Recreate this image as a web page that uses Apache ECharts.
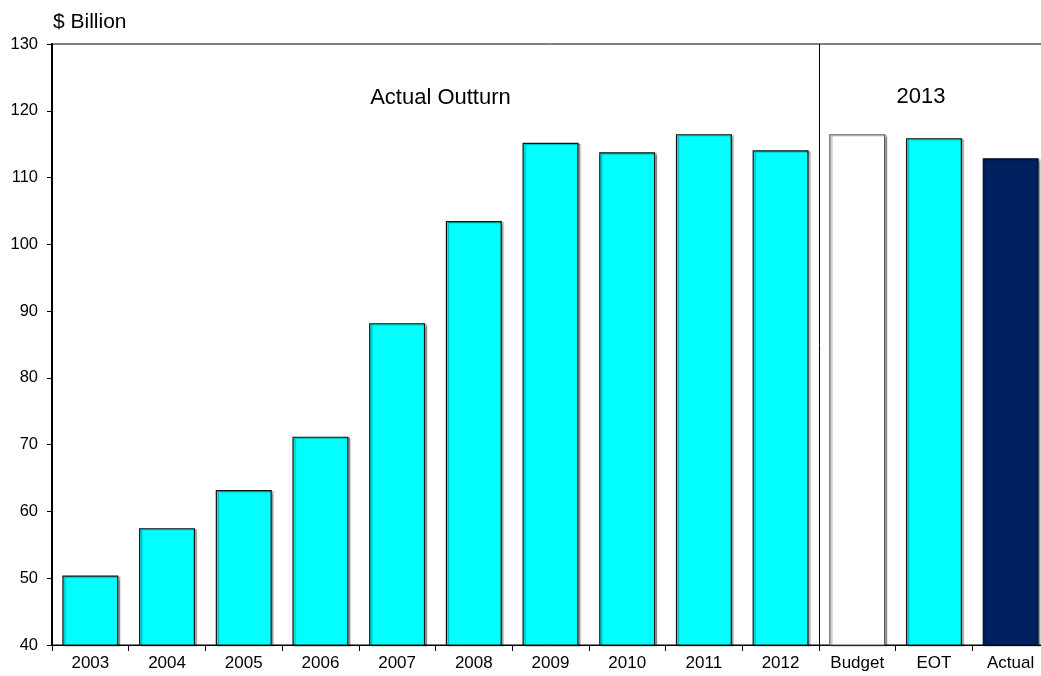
<!DOCTYPE html>
<html>
<head>
<meta charset="utf-8">
<style>
  html, body { margin: 0; padding: 0; background: #fff; overflow: hidden; }
  #chart { width: 1050px; height: 676px; }
</style>
<script src="https://cdn.jsdelivr.net/npm/echarts@6/dist/echarts.min.js"></script>
</head>
<body>
<div id="chart"></div>
<script>
// Annual spending, $ billion
const categories = ['2003','2004','2005','2006','2007','2008','2009','2010','2011','2012','Budget','EOT','Actual'];
const values = [50.4, 57.5, 63.2, 71.2, 88.2, 103.5, 115.2, 113.8, 116.5, 114.1, 116.5, 115.9, 112.9];
const yTicks = { min: 40, max: 130, step: 10 };

const FONT = '"Liberation Sans", Arial, sans-serif';

// Bar appearance by category
function barStyle(name) {
  if (name === 'Budget') return { color: '#ffffff', borderColor: '#555555' };
  if (name === 'Actual') return { color: '#002060', borderColor: '#00102e' };
  return { color: '#00ffff', borderColor: '#111111' };
}

const barData = values.map((v, i) => ({
  value: v,
  itemStyle: Object.assign({
    borderWidth: 1.2,
    shadowColor: 'rgba(0,0,0,0.3)',
    shadowOffsetX: 2,
    shadowOffsetY: 1,
    shadowBlur: 1
  }, barStyle(categories[i]))
}));

const chart = echarts.init(document.getElementById('chart'), null, { renderer: 'canvas' });

chart.setOption({
  animation: false,
  backgroundColor: '#ffffff',
  grid: {
    left: 52, top: 44, right: 1, bottom: 31,
    show: true, borderColor: '#000', borderWidth: 1, backgroundColor: 'transparent'
  },
  xAxis: {
    type: 'category',
    data: categories,
    axisLine: { lineStyle: { color: '#000', width: 1 } },
    axisTick: { show: true, length: 6, lineStyle: { color: '#000' } },
    axisLabel: { color: '#000', fontSize: 17, fontFamily: FONT, margin: 10, interval: 0 },
    splitLine: { show: false }
  },
  yAxis: {
    type: 'value',
    min: yTicks.min, max: yTicks.max, interval: yTicks.step,
    axisLine: { show: true, lineStyle: { color: '#000', width: 2 } },
    axisTick: { show: true, length: 5, lineStyle: { color: '#000' } },
    axisLabel: { color: '#000', fontSize: 16.5, fontFamily: FONT, margin: 14 },
    splitLine: { show: false }
  },
  series: [{
    type: 'bar',
    data: barData,
    barCategoryGap: '27%'
  }]
});

// Section divider between the yearly outturn and the 2013 figures
const firstIdx = categories.indexOf('Budget');
const c0 = chart.convertToPixel({ xAxisIndex: 0 }, categories[0]);
const c1 = chart.convertToPixel({ xAxisIndex: 0 }, categories[1]);
const band = c1 - c0;
const divX = chart.convertToPixel({ xAxisIndex: 0 }, categories[firstIdx]) - band / 2;
const yTop = chart.convertToPixel({ yAxisIndex: 0 }, yTicks.max);
const yBot = chart.convertToPixel({ yAxisIndex: 0 }, yTicks.min);
const midOld = (c0 - band / 2 + divX) / 2;
const midNew = chart.convertToPixel({ xAxisIndex: 0 }, categories[firstIdx + 1]);

chart.setOption({
  graphic: [
    {
      type: 'line',
      shape: { x1: Math.round(divX) + 0.5, y1: yTop, x2: Math.round(divX) + 0.5, y2: yBot },
      style: { stroke: '#000', lineWidth: 1 }
    },
    {
      type: 'text', x: 53, y: 22,
      style: { text: '$ Billion', fill: '#000', font: '21px ' + FONT, verticalAlign: 'middle' }
    },
    {
      type: 'text', x: midOld + 5, y: 98,
      style: { text: 'Actual Outturn', fill: '#000', font: '22px ' + FONT, align: 'center', verticalAlign: 'middle' }
    },
    {
      type: 'text', x: midNew - 13, y: 97,
      style: { text: '2013', fill: '#000', font: '22px ' + FONT, align: 'center', verticalAlign: 'middle' }
    }
  ]
});
</script>
</body>
</html>
